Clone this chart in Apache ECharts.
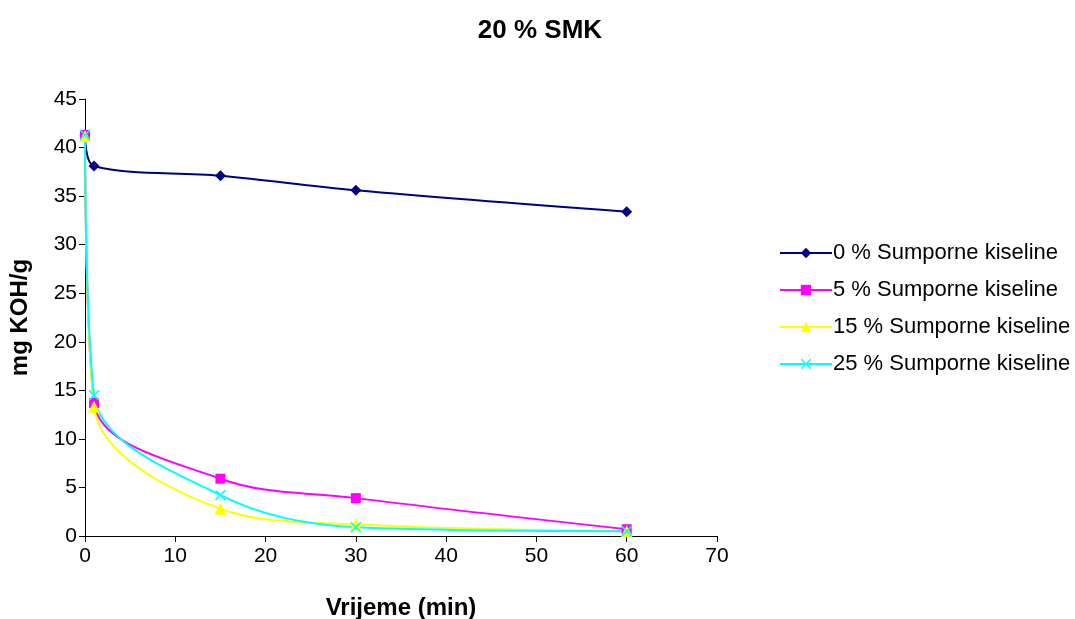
<!DOCTYPE html>
<html>
<head>
<meta charset="utf-8">
<script src="https://cdn.jsdelivr.net/npm/echarts@6/dist/echarts.min.js"></script>
<style>
  html, body { margin: 0; padding: 0; background: #fff; }
  #chart { width: 1075px; height: 619px; }
</style>
</head>
<body>
<div id="chart"></div>
<script>
// Time points (min)
const times = [0, 1, 15, 30, 60];

// Acid number (mg KOH/g) for each sulfuric acid share
const acid0 = [41.3, 38.1, 37.1, 35.6, 33.4];
const acid5 = [41.3, 13.7, 5.9, 3.9, 0.7];
const acid15 = [41.2, 13.3, 2.8, 1.2, 0.5];
const acid25 = [41.3, 14.5, 4.2, 0.9, 0.5];

const seriesNames = [
  '0 % Sumporne kiseline',
  '5 % Sumporne kiseline',
  '15 % Sumporne kiseline',
  '25 % Sumporne kiseline'
];

const xTicks = [0, 10, 20, 30, 40, 50, 60, 70];
const yTicks = [0, 5, 10, 15, 20, 25, 30, 35, 40, 45];

const crossPath = 'path://M0,1L1,0L5,4L9,0L10,1L6,5L10,9L9,10L5,6L1,10L0,9L4,5Z';
const FONT = 'Liberation Sans, Arial, sans-serif';

function pairs(vals) {
  return times.map((t, i) => [t, vals[i]]);
}

function lineSeries(name, vals, color, symbol, size) {
  return {
    name: name,
    type: 'line',
    data: pairs(vals),
    smooth: 0.35,
    symbol: symbol,
    symbolSize: size,
    showAllSymbol: true,
    lineStyle: { color: color, width: 2 },
    itemStyle: { color: color },
    emphasis: { disabled: true }
  };
}

const chart = echarts.init(document.getElementById('chart'), null, { renderer: 'canvas' });

const tickFont = { fontFamily: FONT, fontSize: 21, color: '#000' };
const nameFont = { fontFamily: FONT, fontSize: 24, fontWeight: 'bold', color: '#000' };

chart.setOption({
  animation: false,
  backgroundColor: '#fff',
  title: {
    text: '20 % SMK',
    left: 535,
    textAlign: 'center',
    top: 13,
    textStyle: { fontFamily: FONT, fontSize: 26, fontWeight: 'bold', color: '#000' }
  },
  grid: {
    left: 85, right: 358, top: 99, bottom: 83,
    containLabel: false,
    outerBoundsMode: 'none'
  },
  legend: {
    orient: 'vertical',
    left: 774,
    top: 237,
    itemWidth: 52,
    itemHeight: 13,
    itemGap: 15,
    data: seriesNames,
    textStyle: { fontFamily: FONT, fontSize: 22, color: '#000', padding: [0, 0, 0, -4] }
  },
  xAxis: {
    type: 'value',
    min: 0,
    max: 70,
    interval: 10,
    name: 'Vrijeme (min)',
    nameLocation: 'middle',
    nameGap: 60,
    nameTextStyle: nameFont,
    axisLine: { show: true, lineStyle: { color: '#000', width: 1 } },
    axisTick: { show: true, inside: false, length: 6, lineStyle: { color: '#000' } },
    axisLabel: Object.assign({ margin: 10, formatter: v => xTicks.includes(v) ? String(v) : '' }, tickFont),
    splitLine: { show: false }
  },
  yAxis: {
    type: 'value',
    min: 0,
    max: 45,
    interval: 5,
    name: 'mg KOH/g',
    nameLocation: 'middle',
    nameGap: 53,
    nameRotate: 90,
    nameTextStyle: nameFont,
    axisLine: { show: true, lineStyle: { color: '#000', width: 1 } },
    axisTick: { show: true, inside: false, length: 6, lineStyle: { color: '#000' } },
    axisLabel: Object.assign({ margin: 8, formatter: v => yTicks.includes(v) ? String(v) : '' }, tickFont),
    splitLine: { show: false }
  },
  series: [
    lineSeries(seriesNames[0], acid0, '#000080', 'diamond', 11),
    lineSeries(seriesNames[1], acid5, '#FF00FF', 'rect', 10),
    lineSeries(seriesNames[2], acid15, '#FFFF00', 'triangle', 12),
    lineSeries(seriesNames[3], acid25, '#00FFFF', crossPath, 11)
  ]
});
</script>
</body>
</html>
